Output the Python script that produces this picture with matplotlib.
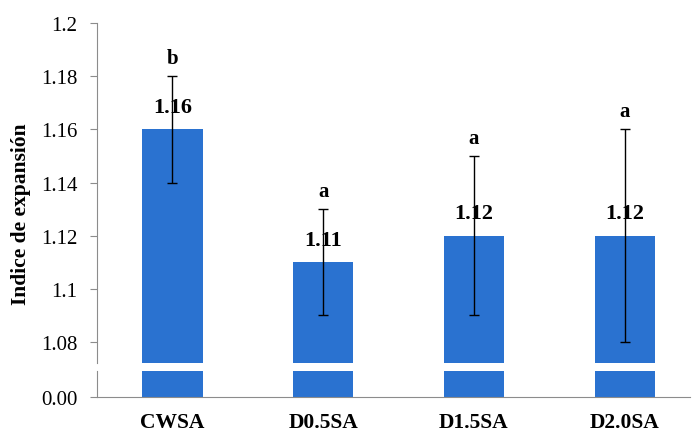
import matplotlib.pyplot as plt

categories = ["CWSA", "D0.5SA", "D1.5SA", "D2.0SA"]
values = [1.16, 1.11, 1.12, 1.12]
err = [0.02, 0.02, 0.03, 0.04]
letters = ["b", "a", "a", "a"]
yticks = [1.08, 1.1, 1.12, 1.14, 1.16, 1.18, 1.2]
ytick_labels = ["1.08", "1.1", "1.12", "1.14", "1.16", "1.18", "1.2"]

plt.rcParams["font.family"] = ["Liberation Serif", "DejaVu Serif"]
BAR = "#2a72d0"
SPINE = "#8c8c8c"

fig = plt.figure(figsize=(6.93, 4.35), dpi=100)
ax = fig.add_axes([0.14, 0.1632, 0.855, 0.7816])   # parte alta
ax2 = fig.add_axes([0.14, 0.0851, 0.855, 0.0597])  # parte baja (0.00)

x = range(len(categories))
for a in (ax, ax2):
    a.bar(x, values, width=0.4, color=BAR, zorder=2)
    a.set_xlim(-0.5, 3.43)
    for s in ("top", "right"):
        a.spines[s].set_visible(False)
    a.spines["left"].set_color(SPINE)
    a.tick_params(axis="y", length=5, color=SPINE, pad=9, labelsize=15)

ax.errorbar(x, values, yerr=err, fmt="none", ecolor="black", elinewidth=1,
            capsize=3.6, capthick=1, zorder=3)
ax.set_ylim(1.0721, 1.2)
ax.set_yticks(yticks)
ax.set_yticklabels(ytick_labels)
ax.spines["bottom"].set_visible(False)
ax.set_xticks([])
ax.set_ylabel("Indice de expansión", fontsize=15.5, fontweight="bold")
ax.yaxis.set_label_coords(-0.112, 0.44)

for i, (v, e, l) in enumerate(zip(values, err, letters)):
    ax.annotate(f"{v:.2f}", (i, v), xytext=(0, 9), textcoords="offset points",
                ha="center", va="bottom", fontsize=16, fontweight="bold")
    ax.annotate(l, (i, v + e), xytext=(0, 6), textcoords="offset points",
                ha="center", va="bottom", fontsize=15, fontweight="bold")

ax2.set_ylim(0, 0.1)
ax2.set_yticks([0])
ax2.set_yticklabels(["0.00"])
ax2.spines["bottom"].set_color(SPINE)
ax2.set_xticks(list(x))
ax2.set_xticklabels(categories, fontsize=15.5, fontweight="bold")
ax2.tick_params(axis="x", length=0, pad=11)

fig.savefig("out.png", dpi=100)
